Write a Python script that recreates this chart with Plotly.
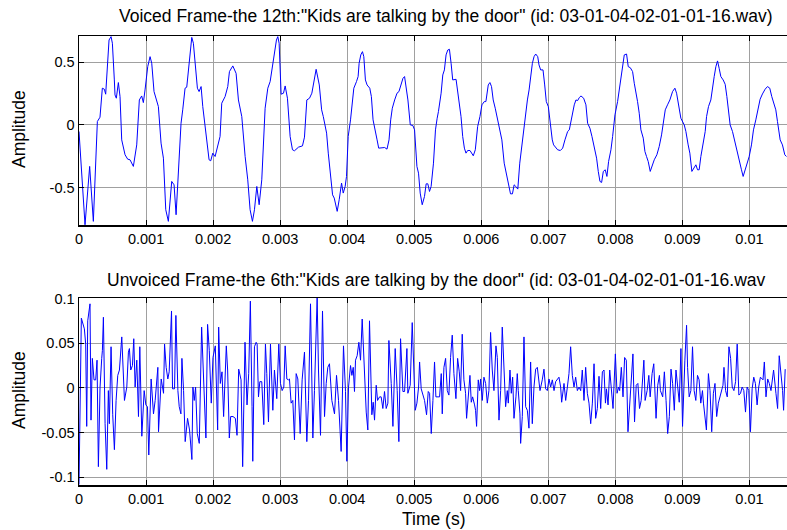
import plotly.graph_objects as go

# ---------------- data (time in ms, amplitude) ----------------
voiced_t_ms = [
    0.000, 0.090, 0.159, 0.214, 0.274, 0.313, 0.348, 0.378, 0.398, 0.423, 0.448, 0.478, 0.498, 0.527, 0.537,
    0.557, 0.587, 0.612, 0.637, 0.687, 0.726, 0.761, 0.811, 0.861, 0.900, 0.935, 0.960, 0.985, 1.025, 1.060,
    1.085, 1.119, 1.159, 1.184, 1.224, 1.259, 1.294, 1.333, 1.383, 1.418, 1.448, 1.483, 1.522, 1.547, 1.582,
    1.607, 1.642, 1.682, 1.706, 1.741, 1.766, 1.791, 1.821, 1.846, 1.881, 1.915, 1.940, 1.965, 1.995, 2.030,
    2.065, 2.104, 2.129, 2.179, 2.219, 2.244, 2.294, 2.343, 2.378, 2.428, 2.478, 2.517, 2.552, 2.587, 2.617,
    2.652, 2.687, 2.726, 2.776, 2.816, 2.851, 2.876, 2.910, 2.945, 2.965, 2.985, 3.015, 3.050, 3.075, 3.109,
    3.149, 3.184, 3.214, 3.274, 3.333, 3.363, 3.398, 3.438, 3.473, 3.512, 3.537,
    3.584, 3.619, 3.644, 3.668, 3.693, 3.718, 3.752, 3.782, 3.807, 3.832, 3.851, 3.881, 3.916, 3.941, 3.970,
    3.990, 4.015, 4.050, 4.074, 4.099, 4.139, 4.163, 4.178, 4.203, 4.228, 4.248, 4.272, 4.297, 4.337, 4.361,
    4.386, 4.411, 4.446, 4.470, 4.510, 4.559, 4.594, 4.624, 4.649, 4.673, 4.708, 4.743, 4.772, 4.792, 4.832,
    4.856, 4.881, 4.906, 4.941, 4.980, 5.005, 5.040, 5.064, 5.089, 5.119, 5.153, 5.178, 5.203, 5.228, 5.252,
    5.287, 5.317, 5.342, 5.361, 5.401, 5.426, 5.450, 5.475, 5.500, 5.525, 5.550, 5.574, 5.624, 5.658, 5.698,
    5.723, 5.748, 5.772, 5.797, 5.832, 5.856, 5.881, 5.911, 5.946, 5.980, 6.010, 6.045, 6.069, 6.104, 6.129,
    6.153, 6.178, 6.208, 6.243, 6.277, 6.307, 6.342, 6.376, 6.406, 6.436, 6.465, 6.490, 6.515, 6.545, 6.574,
    6.604, 6.629, 6.663, 6.688, 6.713, 6.738, 6.762, 6.787, 6.812, 6.842, 6.861, 6.886, 6.921, 6.946, 6.970,
    7.000, 7.025, 7.059,
    7.079, 7.114, 7.139, 7.179, 7.214, 7.248, 7.288, 7.313, 7.338, 7.363, 7.387, 7.412, 7.437, 7.462, 7.487,
    7.527, 7.561, 7.586, 7.621, 7.651, 7.686, 7.720, 7.745, 7.770, 7.795, 7.820, 7.849, 7.874, 7.899, 7.934,
    7.959, 7.994, 8.033, 8.073, 8.108, 8.133, 8.167, 8.192, 8.222, 8.257, 8.282, 8.307, 8.331, 8.356, 8.381,
    8.416, 8.441, 8.465, 8.490, 8.520, 8.555, 8.580, 8.619, 8.654, 8.689, 8.719, 8.744, 8.778, 8.813, 8.853,
    8.888, 8.913, 8.937, 8.977, 9.027, 9.052, 9.086, 9.111, 9.141, 9.166, 9.201, 9.226, 9.250, 9.275, 9.315,
    9.340, 9.360, 9.389, 9.424, 9.449, 9.474, 9.499, 9.524, 9.548, 9.573, 9.608, 9.638, 9.663, 9.683, 9.712,
    9.747, 9.782, 9.812, 9.846, 9.881, 9.906, 9.931, 9.961, 9.996, 10.030, 10.060, 10.095, 10.130, 10.159, 10.194,
    10.234, 10.269, 10.303, 10.333, 10.358, 10.393, 10.418, 10.458, 10.492, 10.527, 10.552,
]
voiced_amp = [
    -0.053, -0.798, -0.332, -0.771, 0.027, 0.061, 0.293, 0.285, 0.245, 0.465, 0.678, 0.705, 0.652, 0.359, 0.239,
    0.213, 0.338, 0.226, -0.120, -0.239, -0.274, -0.279, -0.332, -0.160, 0.199, 0.231, 0.178, 0.279, 0.465, 0.545,
    0.492, 0.266, 0.199, 0.146, -0.146, -0.266, -0.678, -0.771, -0.452, -0.479, -0.718, -0.412, 0.013, 0.120, 0.293,
    0.301, 0.492, 0.699, 0.652, 0.412, 0.293, 0.266, 0.306, 0.146, -0.013, -0.199, -0.279, -0.287, -0.226, -0.253,
    -0.173, -0.093, 0.173, 0.226, 0.306, 0.426, 0.471, 0.412, 0.199, 0.066, -0.253, -0.439, -0.678, -0.771, -0.678,
    -0.492, -0.638, -0.439, 0.133, 0.293, 0.346, 0.426, 0.545, 0.678, 0.705, 0.652, 0.245, 0.253, 0.311, 0.213,
    -0.093, -0.199, -0.207, -0.178, -0.168, -0.098, 0.199, 0.213, 0.253, 0.359, 0.444,
    0.319, 0.120, 0.066, 0.013, -0.066, -0.226, -0.412, -0.559, -0.585, -0.652, -0.691, -0.598, -0.465, -0.545, -0.492,
    -0.412, -0.093, 0.040, 0.173, 0.293, 0.346, 0.386, 0.492, 0.559, 0.585, 0.545, 0.359, 0.319, 0.293, 0.226,
    0.040, -0.040, -0.120, -0.186, -0.186, -0.181, -0.194, -0.120, 0.040, 0.133, 0.199, 0.253, 0.266, 0.306, 0.372,
    0.386, 0.306, 0.199, 0.000, -0.005, -0.040, -0.332, -0.386, -0.545, -0.638, -0.572, -0.471, -0.471, -0.532, -0.492,
    -0.306, -0.040, 0.053, 0.106, 0.253, 0.399, 0.439, 0.559, 0.598, 0.604, 0.492, 0.359, 0.364, 0.226, 0.066,
    -0.093, -0.186, -0.226, -0.205, -0.205, -0.226, -0.247, -0.199, -0.013, 0.066, 0.160, 0.186, 0.186, 0.319, 0.338,
    0.306, 0.199, 0.133, 0.053, -0.040, -0.120, -0.306, -0.386, -0.465, -0.551, -0.551, -0.479, -0.492, -0.513, -0.306,
    -0.173, -0.040, 0.120, 0.199, 0.279, 0.412, 0.492, 0.545, 0.566, 0.545, 0.479, 0.439, 0.439, 0.319, 0.186,
    0.146, 0.013, -0.120,
    -0.160, -0.186, -0.199, -0.205, -0.186, -0.120, -0.053, -0.040, 0.040, 0.106, 0.160, 0.199, 0.194, 0.218, 0.231,
    0.213, 0.160, 0.013, -0.027, -0.093, -0.186, -0.266, -0.372, -0.452, -0.460, -0.372, -0.359, -0.412, -0.293, -0.199,
    -0.093, 0.080, 0.186, 0.332, 0.452, 0.559, 0.566, 0.465, 0.457, 0.426, 0.332, 0.266, 0.186, 0.093, -0.040,
    -0.106, -0.213, -0.253, -0.293, -0.372, -0.306, -0.279, -0.239, -0.173, -0.080, 0.013, 0.120, 0.160, 0.199, 0.266,
    0.293, 0.253, 0.173, 0.053, 0.000, -0.053, -0.160, -0.226, -0.372, -0.354, -0.319, -0.359, -0.359, -0.253, -0.133,
    -0.053, 0.066, 0.146, 0.199, 0.306, 0.386, 0.465, 0.511, 0.452, 0.386, 0.359, 0.324, 0.226, 0.120, 0.000,
    -0.053, -0.133, -0.226, -0.293, -0.359, -0.412, -0.372, -0.306, -0.253, -0.160, -0.040, 0.040, 0.146, 0.205, 0.247,
    0.285, 0.306, 0.293, 0.226, 0.186, 0.120, 0.027, -0.120, -0.160, -0.239, -0.253,
]

unvoiced_t_ms = [
    0.000, 0.035, 0.080, 0.100, 0.115, 0.130, 0.164, 0.179, 0.199, 0.224, 0.249, 0.269, 0.289, 0.314, 0.339,
    0.349, 0.364, 0.389, 0.414, 0.438, 0.453, 0.478, 0.503, 0.528, 0.553, 0.578, 0.603, 0.638, 0.678, 0.713,
    0.737, 0.752, 0.772, 0.797, 0.817, 0.837, 0.862, 0.887, 0.907, 0.937, 0.972, 0.997, 1.021, 1.041, 1.076,
    1.111, 1.136, 1.176, 1.186, 1.226, 1.261, 1.276, 1.300, 1.325, 1.345, 1.380, 1.395, 1.425, 1.445, 1.475,
    1.495, 1.520, 1.535, 1.560, 1.584, 1.619, 1.649, 1.684, 1.699, 1.719, 1.739, 1.764, 1.794, 1.829, 1.863,
    1.893, 1.918, 1.943, 1.973, 1.998, 2.033, 2.068, 2.083, 2.108, 2.133, 2.157, 2.197, 2.217, 2.242, 2.262,
    2.297, 2.332, 2.357, 2.382, 2.417, 2.441, 2.476, 2.506, 2.531, 2.556, 2.581,
    2.592, 2.617, 2.642, 2.657, 2.677, 2.697, 2.726, 2.756, 2.781, 2.801, 2.826, 2.856, 2.866, 2.891, 2.915,
    2.950, 2.980, 3.005, 3.030, 3.055, 3.075, 3.100, 3.124, 3.139, 3.164, 3.189, 3.214, 3.239, 3.264, 3.299,
    3.328, 3.363, 3.398, 3.423, 3.453, 3.488, 3.512, 3.552, 3.572, 3.602, 3.632, 3.662, 3.687, 3.711, 3.736,
    3.771, 3.811, 3.841, 3.871, 3.910, 3.945, 3.975, 3.995, 4.020, 4.050, 4.070, 4.090, 4.109, 4.124, 4.149,
    4.174, 4.199, 4.224, 4.259, 4.284, 4.308, 4.333, 4.368, 4.388, 4.408, 4.433, 4.453, 4.483, 4.507, 4.532,
    4.557, 4.582, 4.607, 4.622, 4.657, 4.682, 4.716, 4.746, 4.771, 4.796, 4.831, 4.856, 4.891, 4.905, 4.940,
    4.970, 5.015, 5.040, 5.065, 5.080, 5.104, 5.154,
    5.184, 5.209, 5.229, 5.254, 5.279, 5.303, 5.323, 5.353, 5.378, 5.403, 5.418, 5.443, 5.468, 5.493, 5.517,
    5.542, 5.567, 5.592, 5.622, 5.647, 5.672, 5.692, 5.716, 5.741, 5.766, 5.781, 5.806, 5.831, 5.851, 5.871,
    5.900, 5.915, 5.930, 5.955, 5.975, 5.990, 6.015, 6.040, 6.065, 6.090, 6.114, 6.139, 6.164, 6.189, 6.219,
    6.239, 6.264, 6.289, 6.313, 6.338, 6.363, 6.388, 6.403, 6.428, 6.448, 6.468, 6.488, 6.517, 6.537, 6.552,
    6.577, 6.587, 6.612, 6.637, 6.662, 6.687, 6.711, 6.736, 6.761, 6.786, 6.811, 6.836, 6.876, 6.910, 6.935,
    6.960, 6.985, 7.010, 7.035, 7.060, 7.085, 7.109, 7.134, 7.159, 7.184, 7.199, 7.234, 7.259, 7.284, 7.308,
    7.333, 7.358, 7.383, 7.408, 7.433, 7.458, 7.483, 7.507, 7.532, 7.557, 7.582, 7.607, 7.632, 7.657, 7.682,
    7.706, 7.731, 7.756, 7.781, 7.806, 7.831,
    7.852, 7.867, 7.891, 7.916, 7.941, 7.965, 8.000, 8.025, 8.049, 8.064, 8.089, 8.114, 8.138, 8.163, 8.188,
    8.222, 8.262, 8.286, 8.311, 8.336, 8.360, 8.385, 8.425, 8.444, 8.474, 8.499, 8.519, 8.548, 8.573, 8.607,
    8.632, 8.657, 8.672, 8.706, 8.731, 8.756, 8.780, 8.805, 8.830, 8.854, 8.879, 8.904, 8.928, 8.953, 8.978,
    9.002, 9.037, 9.062, 9.077, 9.101, 9.126, 9.151, 9.175, 9.200, 9.225, 9.249, 9.274, 9.299, 9.314, 9.338,
    9.358, 9.388, 9.412, 9.437, 9.462, 9.486, 9.511, 9.536, 9.570, 9.605, 9.620, 9.644, 9.669, 9.694, 9.719,
    9.743, 9.768, 9.793, 9.817, 9.842, 9.867, 9.891, 9.916, 9.941, 9.965, 9.990, 10.015, 10.040, 10.064, 10.089,
    10.114, 10.138, 10.163, 10.202, 10.222, 10.247, 10.272, 10.296, 10.321, 10.360, 10.395, 10.420, 10.444, 10.474, 10.494,
    10.509, 10.533,
]
unvoiced_amp = [
    -0.108, 0.078, 0.066, 0.049, -0.043, 0.075, 0.094, -0.036, 0.033, 0.009, 0.009, 0.031, -0.088, 0.001, 0.033,
    0.042, 0.079, -0.040, -0.091, -0.003, -0.040, 0.046, -0.030, -0.069, -0.014, 0.014, 0.020, 0.057, -0.014, 0.001,
    0.040, 0.044, 0.020, 0.025, 0.055, 0.001, 0.031, -0.032, 0.046, -0.054, -0.003, -0.019, -0.021, -0.075, 0.010,
    -0.029, -0.014, 0.023, -0.049, 0.010, -0.006, 0.049, 0.023, 0.010, 0.018, 0.086, -0.001, -0.001, 0.081, -0.003,
    -0.021, -0.029, 0.033, -0.003, -0.060, -0.034, -0.047, -0.080, 0.001, -0.014, 0.001, -0.051, -0.062, 0.068, 0.001,
    -0.056, 0.071, 0.042, -0.017, 0.034, 0.047, -0.047, 0.068, 0.005, 0.018, -0.032, 0.047, 0.020, -0.056, -0.032,
    -0.032, -0.034, -0.053, 0.021, 0.009, -0.088, 0.051, -0.019, 0.016, 0.097, -0.021,
    -0.082, 0.046, 0.051, 0.049, -0.010, 0.007, 0.007, -0.041, 0.049, 0.016, -0.038, 0.049, 0.031, -0.025, 0.020,
    -0.012, 0.049, 0.005, -0.003, 0.001, 0.047, 0.010, 0.009, 0.010, -0.017, -0.014, -0.058, 0.016, 0.010, -0.051,
    0.009, 0.040, -0.060, -0.014, 0.094, -0.056, -0.003, 0.101, 0.020, -0.053, 0.086, -0.032, 0.005, 0.023, 0.027,
    -0.014, -0.029, 0.014, -0.014, -0.071, 0.047, -0.004, -0.082, 0.001, 0.025, 0.014, 0.023, -0.004, 0.031, 0.036,
    0.051, 0.031, 0.077, 0.012, -0.027, -0.047, 0.075, -0.030, -0.016, -0.036, 0.003, -0.014, -0.010, -0.010, -0.023,
    -0.004, -0.023, -0.017, 0.053, 0.005, -0.043, 0.044, -0.003, -0.060, 0.055, -0.004, -0.004, 0.044, -0.006, 0.003,
    0.073, -0.025, -0.017, 0.001, 0.029, -0.001, -0.014,
    -0.030, -0.004, -0.006, -0.051, -0.014, 0.029, -0.010, -0.010, -0.010, 0.016, -0.029, 0.023, 0.033, -0.003, -0.008,
    0.034, 0.059, 0.016, -0.012, 0.033, 0.018, -0.003, 0.060, 0.009, -0.006, -0.034, -0.003, 0.014, -0.016, -0.010,
    -0.019, -0.025, -0.043, 0.009, -0.003, 0.010, -0.014, 0.012, 0.005, -0.017, -0.003, 0.062, 0.020, -0.003, 0.047,
    0.034, -0.036, -0.003, 0.068, 0.012, -0.021, -0.003, -0.017, 0.020, -0.006, 0.012, -0.034, -0.010, 0.016, -0.003,
    -0.029, -0.062, -0.032, 0.057, -0.021, -0.025, -0.045, 0.029, -0.040, 0.001, 0.021, 0.023, -0.003, 0.009, 0.021,
    -0.001, -0.003, 0.010, 0.001, 0.009, -0.003, 0.007, 0.009, 0.012, 0.001, -0.016, 0.005, -0.014, 0.001, 0.016,
    0.046, 0.014, 0.001, 0.012, -0.003, 0.001, -0.003, 0.020, -0.014, 0.023, -0.006, -0.017, -0.040, -0.017, 0.027,
    -0.034, -0.023, 0.013, -0.023, 0.018, 0.020,
    -0.017, -0.001, -0.019, 0.020, -0.003, -0.023, 0.038, -0.006, 0.001, -0.003, 0.023, -0.010, 0.034, 0.031, -0.049,
    -0.006, 0.038, -0.038, 0.003, 0.005, -0.023, -0.014, 0.031, -0.014, -0.003, 0.014, -0.010, 0.016, 0.027, -0.034,
    0.003, 0.014, -0.003, -0.010, 0.018, -0.014, -0.051, -0.032, 0.021, 0.005, -0.025, 0.020, 0.001, -0.016, 0.044,
    -0.043, 0.031, 0.070, 0.023, -0.010, -0.003, 0.046, -0.003, -0.014, 0.014, 0.009, -0.017, -0.003, -0.017, -0.032,
    -0.047, 0.016, -0.003, -0.049, -0.006, 0.005, -0.032, -0.017, -0.006, 0.003, 0.023, -0.003, -0.010, 0.046, 0.033,
    0.001, -0.003, 0.007, 0.049, -0.008, -0.006, 0.001, -0.003, -0.027, 0.001, -0.003, -0.049, -0.001, 0.012, 0.005,
    -0.019, 0.001, 0.012, 0.009, 0.029, -0.010, 0.010, 0.005, -0.003, 0.020, -0.006, -0.023, 0.036, 0.016, -0.003,
    -0.025, 0.021,
]

x_tick_vals = [0, 0.001, 0.002, 0.003, 0.004, 0.005, 0.006, 0.007, 0.008, 0.009, 0.01]
x_tick_text = ["0", "0.001", "0.002", "0.003", "0.004", "0.005", "0.006", "0.007", "0.008", "0.009", "0.01"]
y1_tick_vals = [-0.5, 0, 0.5]
y1_tick_text = ["-0.5", "0", "0.5"]
y2_tick_vals = [-0.1, -0.05, 0, 0.05, 0.1]
y2_tick_text = ["-0.1", "-0.05", "0", "0.05", "0.1"]

title_top = 'Voiced Frame-the 12th:"Kids are talking by the door" (id: 03-01-04-02-01-01-16.wav)'
title_bottom = 'Unvoiced Frame-the 6th:"Kids are talking by the door" (id: 03-01-04-02-01-01-16.wav'

# ---------------- figure ----------------
voiced_t = [v / 1000.0 for v in voiced_t_ms]
unvoiced_t = [v / 1000.0 for v in unvoiced_t_ms]

W, H = 787, 530
FONT = "Liberation Sans, Arial, Helvetica, sans-serif"

fig = go.Figure()
fig.add_trace(go.Scatter(x=voiced_t, y=voiced_amp, mode="lines",
                         line=dict(color="#0000ff", width=1), xaxis="x", yaxis="y",
                         showlegend=False, hoverinfo="skip"))
fig.add_trace(go.Scatter(x=unvoiced_t, y=unvoiced_amp, mode="lines",
                         line=dict(color="#0000ff", width=1), xaxis="x2", yaxis="y2",
                         showlegend=False, hoverinfo="skip"))

x_left = 79 / W
common_x = dict(range=[0, 0.01056], tickvals=x_tick_vals, ticktext=x_tick_text,
                ticks="inside", ticklen=5, tickcolor="black", tickwidth=1,
                showline=True, linecolor="black", linewidth=1.5, mirror="ticks",
                showgrid=True, gridcolor="#a0a0a0", gridwidth=1,
                zeroline=False, automargin=False,
                tickfont=dict(family=FONT, size=14.5, color="black"))
common_y = dict(ticks="inside", ticklen=5, tickcolor="black", tickwidth=1,
                showline=True, linecolor="black", linewidth=1.5, mirror=False,
                showgrid=True, gridcolor="#a0a0a0", gridwidth=1,
                zeroline=False, automargin=False,
                tickfont=dict(family=FONT, size=14.5, color="black"))

fig.update_layout(
    template="none",
    width=W, height=H,
    margin=dict(l=0, r=0, t=0, b=0, pad=0),
    paper_bgcolor="white", plot_bgcolor="white",
    hovermode=False,
    xaxis=dict(domain=[x_left, 1.0], anchor="y", **common_x),
    yaxis=dict(domain=[1 - 225 / H, 1 - 36 / H], anchor="x", range=[-0.80, 0.71],
               tickvals=y1_tick_vals, ticktext=y1_tick_text, **common_y),
    xaxis2=dict(domain=[x_left, 1.0], anchor="y2", **common_x),
    yaxis2=dict(domain=[1 - 485 / H, 1 - 298 / H], anchor="x2", range=[-0.1085, 0.1005],
                tickvals=y2_tick_vals, ticktext=y2_tick_text, **common_y),
)

ann_font = dict(family=FONT, size=17.5, color="black")
lab_font = dict(family=FONT, size=17.5, color="black")
fig.add_annotation(text=title_top, x=445 / W, y=1 - 16 / H, xref="paper", yref="paper",
                   xanchor="center", yanchor="middle", showarrow=False, font=ann_font)
fig.add_annotation(text=title_bottom, x=436 / W, y=1 - 280 / H, xref="paper", yref="paper",
                   xanchor="center", yanchor="middle", showarrow=False, font=ann_font)
fig.add_annotation(text="Amplitude", x=19 / W, y=1 - 129 / H, xref="paper", yref="paper",
                   xanchor="center", yanchor="middle", textangle=-90, showarrow=False, font=lab_font)
fig.add_annotation(text="Amplitude", x=19 / W, y=1 - 390 / H, xref="paper", yref="paper",
                   xanchor="center", yanchor="middle", textangle=-90, showarrow=False, font=lab_font)
fig.add_annotation(text="Time (s)", x=434 / W, y=1 - 519 / H, xref="paper", yref="paper",
                   xanchor="center", yanchor="middle", showarrow=False, font=lab_font)

fig.write_html("out.html", config={"displayModeBar": False, "staticPlot": True})

# remove the browser's default page margin so the 787x530 figure fills the window exactly
with open("out.html", "r", encoding="utf-8") as fh:
    page = fh.read()
page = page.replace("<body>", '<body style="margin:0;padding:0;overflow:hidden">', 1)
with open("out.html", "w", encoding="utf-8") as fh:
    fh.write(page)
